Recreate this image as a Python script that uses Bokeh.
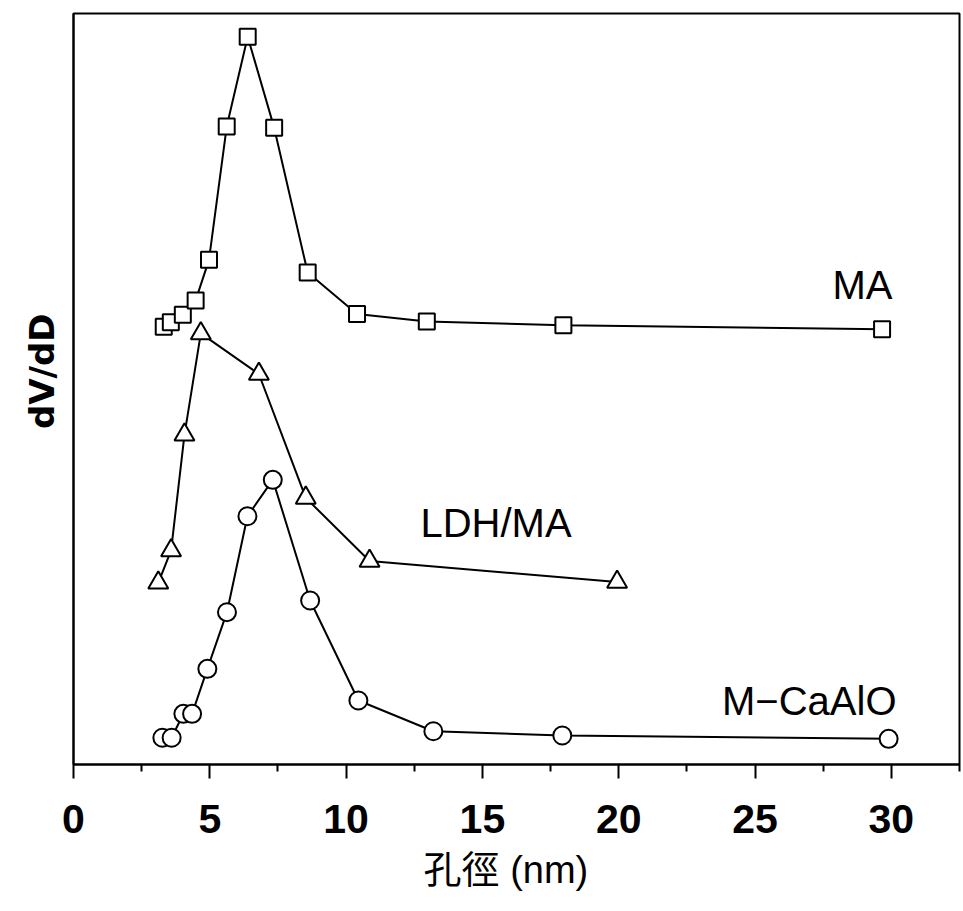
from bokeh.plotting import figure
from bokeh.models import Range1d, FixedTicker, Label
from bokeh.embed import file_html
from bokeh.resources import INLINE

# Pore diameter (nm) and dV/dD (arbitrary offset units) for each sample
ma_x = [3.31, 3.57, 4.01, 4.48, 4.97, 5.62, 6.39, 7.36, 8.59, 10.40, 12.96, 17.97, 29.66]
ma_y = [58.3, 58.9, 59.9, 61.8, 67.2, 84.95, 96.9, 84.8, 65.5, 60.0, 59.0, 58.5, 57.95]

ldh_x = [3.11, 3.58, 4.07, 4.67, 6.80, 8.52, 10.86, 19.94]
ldh_y = [24.2, 28.5, 43.9, 57.4, 52.0, 35.5, 27.1, 24.3]

cao_x = [3.26, 3.60, 4.03, 4.35, 4.91, 5.63, 6.38, 7.31, 8.68, 10.45, 13.20, 17.93, 29.90]
cao_y = [3.56, 3.56, 6.75, 6.75, 12.74, 20.28, 33.06, 37.9, 21.84, 8.52, 4.43, 3.86, 3.42]

x_major = [0, 5, 10, 15, 20, 25, 30]
x_minor = [2.5, 7.5, 12.5, 17.5, 22.5, 27.5, 32.5]

series_names = ["MA", "LDH/MA", "M\u2212CaAlO"]

LABEL_FONT = "Liberation Sans"

p = figure(width=963, height=911, output_backend="svg", toolbar_location=None,
           x_range=Range1d(0, 32.5), y_range=Range1d(0, 100),
           min_border_left=73, min_border_right=4, min_border_top=13,
           min_border_bottom=147)
p.grid.visible = False
p.background_fill_color = "white"
p.border_fill_color = "white"
p.outline_line_color = "black"
p.outline_line_width = 2

# x axis: outward ticks, a minor tick between each pair of majors
xa = p.xaxis[0]
xa.ticker = FixedTicker(ticks=x_major, minor_ticks=x_minor)
xa.axis_line_width = 2
xa.major_tick_in = 0
xa.major_tick_out = 14
xa.major_tick_line_width = 2
xa.minor_tick_in = 0
xa.minor_tick_out = 7
xa.minor_tick_line_width = 2
xa.major_label_text_font = LABEL_FONT
xa.major_label_text_font_style = "bold"
xa.major_label_text_font_size = "41px"
xa.major_label_text_color = "black"
xa.major_label_standoff = 26
xa.axis_label = "孔徑 (nm)\u00a0\u00a0"
xa.axis_label_text_font = "'Liberation Sans', 'Noto Sans CJK TC'"
xa.axis_label_text_font_style = "normal"
xa.axis_label_text_font_size = "38px"
xa.axis_label_text_color = "black"
xa.axis_label_standoff = 13

# y axis: plain line, no ticks or numbers
ya = p.yaxis[0]
ya.ticker = FixedTicker(ticks=[])
ya.axis_line_width = 2
ya.major_tick_line_color = None
ya.minor_tick_line_color = None
ya.major_label_text_font_size = "0px"
ya.axis_label = "\u00a0\u00a0\u00a0dV/dD"
ya.axis_label_text_font = "DejaVu Sans"
ya.axis_label_text_font_style = "bold"
ya.axis_label_text_font_size = "34px"
ya.axis_label_text_color = "black"
ya.axis_label_standoff = 12

for xs, ys, marker, size in [(ma_x, ma_y, "square", 16),
                             (ldh_x, ldh_y, "triangle", 20),
                             (cao_x, cao_y, "circle", 18)]:
    p.line(xs, ys, line_color="black", line_width=2)
    p.scatter(xs, ys, marker=marker, size=size, fill_color="white",
              line_color="black", line_width=2)

# series names
for name, lx, ly in zip(series_names, [28.94, 15.50, 26.99], [63.8, 32.2, 8.52]):
    p.add_layout(Label(x=lx, y=ly, text=name, text_align="center",
                       text_baseline="alphabetic", text_font=LABEL_FONT,
                       text_font_size="40px", text_color="black"))

open("out.html", "w").write(file_html(p, INLINE))
